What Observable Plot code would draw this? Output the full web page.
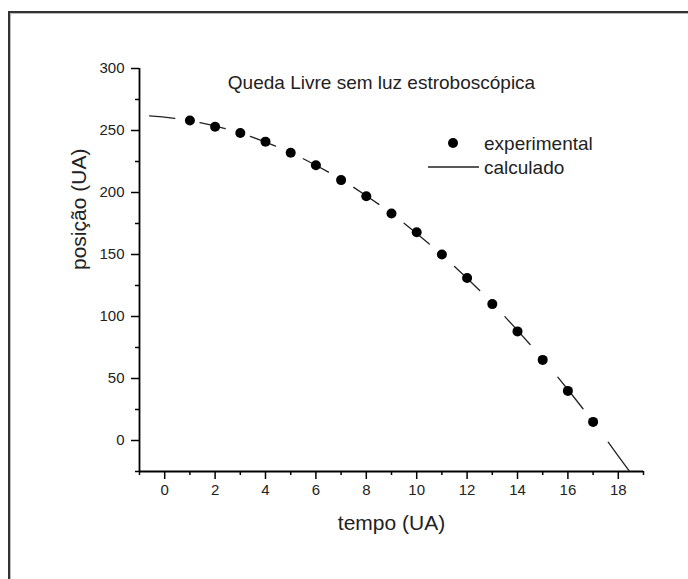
<!DOCTYPE html>
<html>
<head>
<meta charset="utf-8">
<script src="https://cdn.jsdelivr.net/npm/d3@7"></script>
<script src="https://cdn.jsdelivr.net/npm/@observablehq/plot@0.6"></script>
<style>
  html, body { margin: 0; padding: 0; background: #fff; overflow: hidden; }
  #wrap { position: relative; width: 688px; height: 579px; }
  #border { position: absolute; left: 8px; top: 11px; width: 720px; height: 620px;
            border-left: 2px solid #333; border-top: 2px solid #333;
            box-shadow: inset 1px 1px 0 #bbb; }
  #chart { position: absolute; left: 0; top: 0; }
</style>
</head>
<body>
<div id="wrap"><div id="border"></div><div id="chart"></div></div>
<script>
// Experimental points
const tempo   = [1, 2, 3, 4, 5, 6, 7, 8, 9, 10, 11, 12, 13, 14, 15, 16, 17];
const posicao = [258, 253, 248, 241, 232, 222, 210, 197, 183, 168, 150, 131, 110, 88, 65, 40, 15];

// Calculated curve (drawn as dashes)
const calcTempo   = [-0.6, -0.1, 0.4,  1.4, 1.9, 2.4,  3.4, 3.9, 4.4,  5.5, 6, 6.5,  7.5, 8, 8.5,
                     9.5, 10, 10.5,  11.5, 12, 12.5,  13.5, 14, 14.5,  15.6, 16.1, 16.6,  17.6, 18, 18.45];
const calcPosicao = [261.8, 261.0, 259.8,  256.4, 254.2, 251.6,  245.2, 241.5, 237.4,  227.2, 222.0, 216.4,
                     204.1, 197.4, 190.4,  175.2, 167.0, 158.5,  140.4, 130.9, 120.9,  99.9, 88.8, 77.4,
                     51.1, 38.5, 25.6,  -1.4, -12.6, -25];
const calcTraco   = [0,0,0, 1,1,1, 2,2,2, 3,3,3, 4,4,4, 5,5,5, 6,6,6, 7,7,7, 8,8,8, 9,9,9];

// Ticks
const xMajor = [0, 2, 4, 6, 8, 10, 12, 14, 16, 18];
const xMinor = [-1, 1, 3, 5, 7, 9, 11, 13, 15, 17, 19];
const yMajor = [0, 50, 100, 150, 200, 250, 300];
const yMinor = [-25, 25, 75, 125, 175, 225, 275];

const titulo = "Queda Livre sem luz estroboscópica";
const xLabel = "tempo (UA)";
const yLabel = "posição (UA)";
const legendLabels = ["experimental", "calculado"];

const pontos = tempo.map((t, i) => ({t, p: posicao[i]}));
const curva = calcTempo.map((t, i) => ({t, p: calcPosicao[i], g: calcTraco[i]}));

const font = "'Liberation Sans', Arial, sans-serif";
const ink = "#222";

function legend(index, scales, values, dims) {
  const g = d3.create("svg:g").attr("font-family", font).attr("font-size", 19)
    .attr("fill", ink).attr("text-anchor", "start");
  const x0 = 453, y0 = 143;
  g.append("circle").attr("cx", x0).attr("cy", y0).attr("r", 5).attr("fill", "#000");
  g.append("text").attr("x", 484).attr("y", y0).attr("dy", "0.35em").text(legendLabels[0]);
  g.append("line").attr("x1", 428).attr("x2", 479).attr("y1", 167).attr("y2", 167)
    .attr("stroke", ink).attr("stroke-width", 1.3);
  g.append("text").attr("x", 484).attr("y", 167).attr("dy", "0.35em").text(legendLabels[1]);
  return g.node();
}

const chart = Plot.plot({
  width: 688,
  height: 579,
  marginLeft: 139,
  marginRight: 45,
  marginTop: 68,
  marginBottom: 108,
  x: {domain: [-1, 19]},
  y: {domain: [-25, 300]},
  style: {fontFamily: font, fontSize: "15px", color: ink, background: "transparent", overflow: "visible"},
  marks: [
    Plot.axisX({ticks: xMinor, tickSize: 4, tickFormat: () => "", label: null, strokeWidth: 1.5, stroke: "#000"}),
    Plot.axisX({ticks: xMajor, tickSize: 8, tickPadding: 5, label: null, strokeWidth: 1.5, stroke: "#000"}),
    Plot.axisY({ticks: yMinor, tickSize: 4, tickFormat: () => "", label: null, strokeWidth: 1.5, stroke: "#000"}),
    Plot.axisY({ticks: yMajor, tickSize: 8, tickPadding: 7, label: null, strokeWidth: 1.5, stroke: "#000"}),
    Plot.ruleX([-1], {stroke: "#000", strokeWidth: 1.8}),
    Plot.ruleY([-25], {stroke: "#000", strokeWidth: 1.8}),
    Plot.line(curva, {x: "t", y: "p", z: "g", stroke: ink, strokeWidth: 1.3, clip: true}),
    Plot.dot(pontos, {x: "t", y: "p", r: 5, fill: "#000"}),
    Plot.text([titulo], {frameAnchor: "top", dx: -10, dy: 14, fontSize: 19, fill: ink, lineAnchor: "middle"}),
    Plot.text([xLabel], {frameAnchor: "bottom", dy: 52, fontSize: 21, fill: ink, lineAnchor: "middle"}),
    Plot.text([yLabel], {frameAnchor: "left", dx: -60, rotate: -90, fontSize: 21, fill: ink, lineAnchor: "middle"}),
    legend
  ]
});
document.getElementById("chart").appendChild(chart);
</script>
</body>
</html>
